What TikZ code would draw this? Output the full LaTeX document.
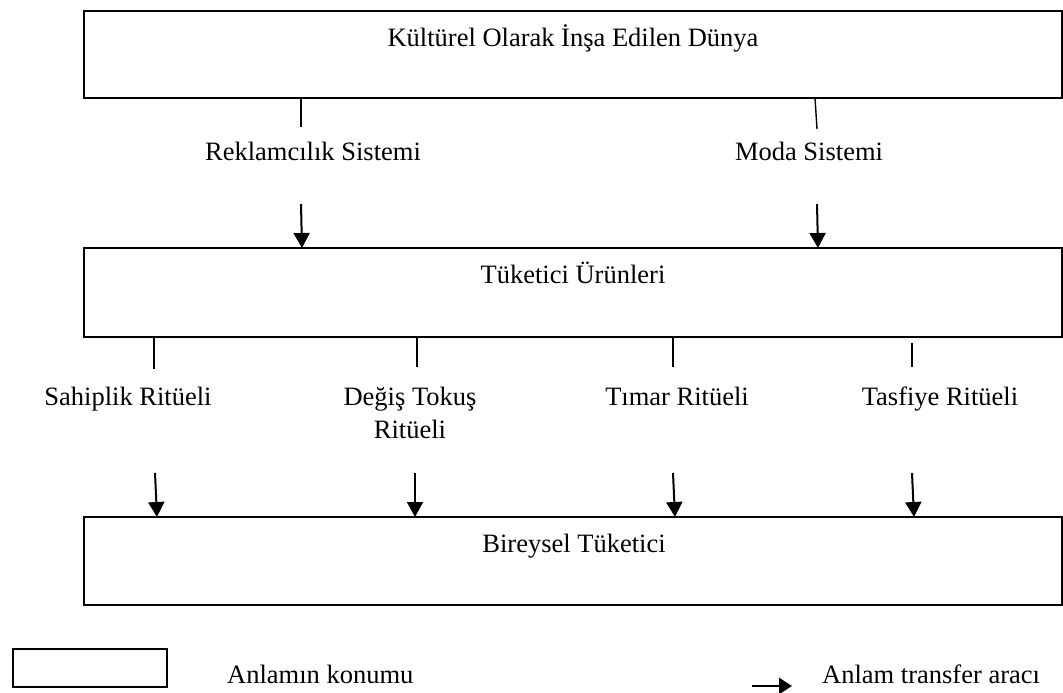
\documentclass[tikz,border=0pt]{standalone}
\usepackage{fontspec}
\setmainfont{Liberation Serif}
\usetikzlibrary{arrows.meta}
\tikzset{
  frame/.style={draw=black, line width=2.2pt},
  lbl/.style={anchor=base, inner sep=0pt, font=\fontsize{26.5}{31}\selectfont},
  conn/.style={draw=black, line width=1.4pt},
  transfer/.style={draw=black, line width=2pt, -{Triangle[length=15pt,width=16pt]}},
  legendarrow/.style={draw=black, line width=2.8pt, -{Triangle[length=13pt,width=16pt]}}
}
\begin{document}
\begin{tikzpicture}[x=1pt,y=-1pt]
\useasboundingbox (0,0) rectangle (1063,693);
% boxes
\draw[frame] (84,11) rectangle (1062,98);
\draw[frame] (84,248) rectangle (1062,337);
\draw[frame] (84,517) rectangle (1062,605);
\node[lbl] (world) at (573,47) {Kültürel Olarak İnşa Edilen Dünya};
\node[lbl] (goods) at (573,283) {Tüketici Ürünleri};
\node[lbl] (cons) at (574,552) {Bireysel Tüketici};
% instruments level 1
\node[lbl] (adv) at (313,160) {Reklamcılık Sistemi};
\node[lbl] (fash) at (809,160) {Moda Sistemi};
% instruments level 2
\node[lbl] (poss) at (128,405) {Sahiplik Ritüeli};
\node[lbl] (exch) at (410,405) {Değiş Tokuş};
\node[lbl] (exch2) at (410,438) {Ritüeli};
\node[lbl] (groom) at (677,405) {Tımar Ritüeli};
\node[lbl] (div) at (940,405) {Tasfiye Ritüeli};
% connector endpoints
\coordinate (a1) at (301,98);  \coordinate (a2) at (301,127);
\coordinate (a3) at (301,204); \coordinate (a4) at (302,248);
\coordinate (b1) at (815,98);  \coordinate (b2) at (817,129);
\coordinate (b3) at (817,204); \coordinate (b4) at (818,248);
\coordinate (c1) at (154,337); \coordinate (c2) at (154,369);
\coordinate (c3) at (155,473); \coordinate (c4) at (157,517);
\coordinate (d1) at (417,337); \coordinate (d2) at (417,367);
\coordinate (d3) at (415,473); \coordinate (d4) at (415,517);
\coordinate (e1) at (673,337); \coordinate (e2) at (673,367);
\coordinate (e3) at (673,473); \coordinate (e4) at (675,517);
\coordinate (f1) at (912,343); \coordinate (f2) at (912,367);
\coordinate (f3) at (912,473); \coordinate (f4) at (914,517);
\draw[conn] (a1) -- (a2);
\draw[transfer] (a3) -- (a4);
\draw[conn] (b1) -- (b2);
\draw[transfer] (b3) -- (b4);
\draw[conn] (c1) -- (c2);
\draw[transfer] (c3) -- (c4);
\draw[conn] (d1) -- (d2);
\draw[transfer] (d3) -- (d4);
\draw[conn] (e1) -- (e2);
\draw[transfer] (e3) -- (e4);
\draw[conn] (f1) -- (f2);
\draw[transfer] (f3) -- (f4);
% legend
\draw[frame, line width=2pt] (13,649) rectangle (167,687);
\node[lbl, anchor=base west] (leg1) at (227,683) {Anlamın konumu};
\coordinate (g1) at (752,686);
\coordinate (g2) at (792,686);
\draw[legendarrow] (g1) -- (g2);
\node[lbl, anchor=base west] (leg2) at (822,683) {Anlam transfer aracı};
\end{tikzpicture}
\end{document}
